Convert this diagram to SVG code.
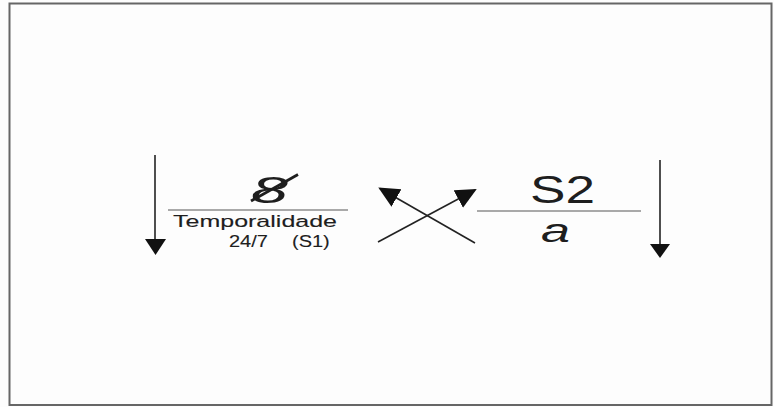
<svg xmlns="http://www.w3.org/2000/svg" width="774" height="407" viewBox="0 0 774 407">
  <style>
    .txt { font-family: "Liberation Sans", Arial, sans-serif; fill: #1e1e1e; }
    .small { stroke: #1e1e1e; stroke-width: 0.12; }
    .conn { stroke: #222; stroke-width: 1.6; fill: none; }
    .bar { stroke: #8c8c8c; stroke-width: 1.6; }
    .head { fill: #111; }
  </style>
  <defs>
    <marker id="arrow" markerUnits="userSpaceOnUse" markerWidth="24" markerHeight="22" refX="19" refY="10" orient="auto">
      <path d="M0,0 L21,10 L0,20 Z" class="head"/>
    </marker>
  </defs>

  <!-- page -->
  <rect x="0" y="0" width="774" height="407" fill="#fdfdfd"/>
  <rect x="9.5" y="3.5" width="762" height="401.5" fill="none" stroke="#666" stroke-width="2"/>

  <!-- left fraction -->
  <g id="left-term">
    <line class="bar" x1="168" y1="210" x2="348" y2="210"/>
    <text class="txt" x="251" y="203" font-size="37" font-style="italic" textLength="37" lengthAdjust="spacingAndGlyphs">8</text>
    <line x1="251" y1="201" x2="298" y2="174.5" stroke="#1e1e1e" stroke-width="2.8"/>
    <text class="txt small" x="173" y="226.5" font-size="17" textLength="164" lengthAdjust="spacingAndGlyphs">Temporalidade</text>
    <text class="txt small" font-size="16" transform="translate(229,247) scale(1.25,1)"><tspan x="0">24/7</tspan><tspan x="50.4">(S1)</tspan></text>
  </g>

  <!-- right fraction -->
  <g id="right-term">
    <line class="bar" x1="477" y1="211" x2="641" y2="211"/>
    <text class="txt" x="530" y="203" font-size="38" textLength="65" lengthAdjust="spacingAndGlyphs">S2</text>
    <text class="txt" x="541" y="242" font-size="33" font-style="italic" textLength="29" lengthAdjust="spacingAndGlyphs">a</text>
  </g>

  <!-- connectors -->
  <g id="connectors">
    <line class="conn" x1="155" y1="155" x2="155" y2="241"/>
    <polygon class="head" points="145,239 166,239 155.5,255"/>
    <line class="conn" x1="660" y1="160" x2="660" y2="246"/>
    <polygon class="head" points="650,244 670,244 660,258"/>
    <line class="conn" x1="475" y1="243" x2="380" y2="188.5" marker-end="url(#arrow)"/>
    <line class="conn" x1="378" y1="242" x2="475" y2="190" marker-end="url(#arrow)"/>
  </g>
</svg>
